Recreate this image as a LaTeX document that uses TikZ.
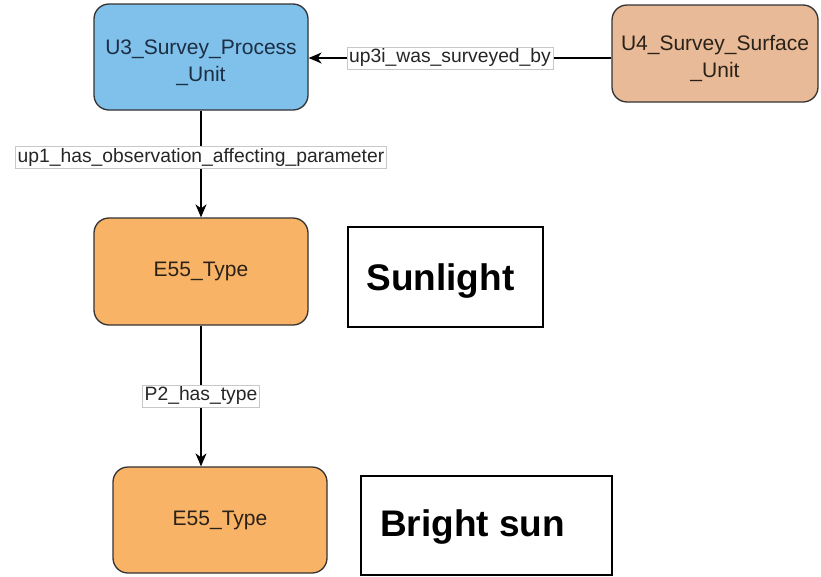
\documentclass[tikz,border=0pt]{standalone}
\usepackage{fontspec}
\setmainfont{Liberation Sans}
\usetikzlibrary{arrows.meta}
\definecolor{blueFill}{HTML}{7FC1EA}
\definecolor{peachFill}{HTML}{E8BA97}
\definecolor{orangeFill}{HTML}{F9B366}
\definecolor{borderC}{HTML}{333333}
\definecolor{navyText}{HTML}{1C2E44}
\definecolor{darkText}{HTML}{2A2218}
\definecolor{lblBorder}{HTML}{C8C8C8}
\newcommand{\topstrut}{\rule{0pt}{26pt}}
\tikzset{
  entity/.style={draw=borderC, line width=1.3pt, rounded corners=15pt, inner sep=0pt,
    align=center, font=\fontsize{21}{27}\selectfont},
  textbox/.style={draw=black, line width=1.3pt, inner sep=0pt},
  bigtext/.style={inner sep=0pt, font=\fontsize{37}{44}\selectfont\bfseries},
  conn/.style={draw=black, line width=1.3pt, -{Stealth[length=13pt,width=11pt,inset=4pt]}},
  elabel/.style={fill=white, draw=lblBorder, line width=0.6pt, inner xsep=2pt, inner ysep=2pt,
    font=\fontsize{19.3}{21}\selectfont, text=black!85}
}
\begin{document}
\begin{tikzpicture}[x=1pt,y=-1pt]
\useasboundingbox (0,0) rectangle (821,576);
\node[entity, fill=blueFill, text=navyText, minimum width=214pt, minimum height=106pt] (U3) at (201,57) {\topstrut U3\_Survey\_Process\\\_Unit};
\node[entity, fill=peachFill, text=darkText, minimum width=206pt, minimum height=97pt] (U4) at (715,53.5) {\topstrut U4\_Survey\_Surface\\\_Unit};
\node[entity, fill=orangeFill, text=darkText, minimum width=214pt, minimum height=107pt] (E1) at (201,271.5) {E55\_Type};
\node[entity, fill=orangeFill, text=darkText, minimum width=214pt, minimum height=106pt] (E2) at (220,520) {E55\_Type};
\node[textbox, minimum width=195pt, minimum height=100pt] (S1) at (445.5,277) {};
\node[bigtext] (S1t) at (440.5,281) {Sunlight};
\node[textbox, minimum width=251pt, minimum height=99pt] (S2) at (486.5,525.5) {};
\node[bigtext] (S2t) at (472.5,527) {Bright sun};
\draw[conn] (U4.west |- 0,58) -- node[elabel, pos=0.533] {up3i\_was\_surveyed\_by} (U3.east |- 0,58);
\draw[conn] (U3.south) -- node[elabel, pos=0.435] {up1\_has\_observation\_affecting\_parameter} (E1.north);
\draw[conn] (E1.south) -- node[elabel, pos=0.5] {P2\_has\_type} (E1.south |- E2.north);
\end{tikzpicture}
\end{document}
